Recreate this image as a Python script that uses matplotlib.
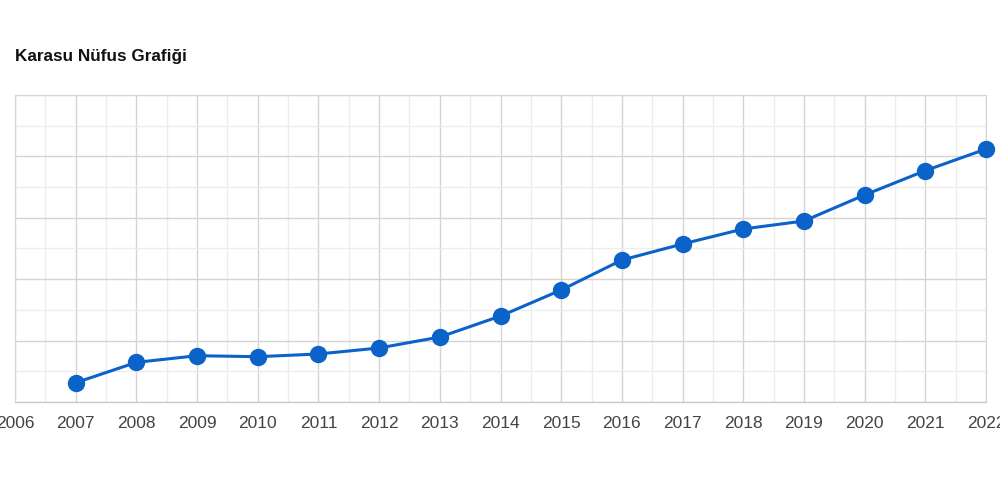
import matplotlib
matplotlib.use('Agg')
import matplotlib.pyplot as plt
from matplotlib.ticker import MultipleLocator

plt.rcParams['font.family'] = ['Liberation Sans', 'DejaVu Sans']

# Karasu nüfus verileri
yillar = [2007, 2008, 2009, 2010, 2011, 2012, 2013, 2014, 2015,
          2016, 2017, 2018, 2019, 2020, 2021, 2022]
nufus = [51570, 53230, 53770, 53690, 53910, 54400, 55290, 57000, 59120,
         61560, 62870, 64090, 64740, 66860, 68840, 70600]

fig = plt.figure(figsize=(10, 4.96), dpi=100)
ax = fig.add_axes([0.015, 0.1895, 0.971, 0.619])

ax.plot(yillar, nufus, color='#0b62c9', linewidth=2.2, marker='o',
        markersize=11.5, clip_on=False, zorder=3)

ax.set_xlim(2006, 2022)
ax.set_ylim(50000, 75000)
ax.xaxis.set_major_locator(MultipleLocator(1))
ax.xaxis.set_minor_locator(MultipleLocator(0.5))
ax.yaxis.set_major_locator(MultipleLocator(5000))
ax.yaxis.set_minor_locator(MultipleLocator(2500))

ax.grid(True, which='major', color='#d4d4d4', linewidth=1.0)
ax.grid(True, which='minor', color='#ededed', linewidth=1.0)
ax.set_axisbelow(True)

ax.tick_params(axis='both', which='both', length=0)
ax.tick_params(axis='x', labelsize=12.5, labelcolor='#444444', pad=10)
ax.set_yticklabels([])
ax.set_xticklabels([str(int(t)) for t in ax.get_xticks()])

for s in ax.spines.values():
    s.set_color('#d4d4d4')
ax.spines['bottom'].set_color('#c4c4c4')

fig.text(0.015, 1 - 57 / 496, 'Karasu Nüfus Grafiği', fontsize=12.3,
         fontweight='bold', color='#111111', va='center', ha='left')

fig.savefig('out.png', dpi=100, facecolor='white')
